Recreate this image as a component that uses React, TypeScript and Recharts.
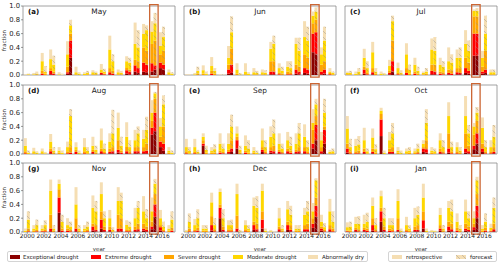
import React from "react";
import { BarChart, Bar, XAxis, YAxis, ReferenceArea } from "recharts";

const years = [
  2000, 2001, 2002, 2003, 2004, 2005, 2006, 2007, 2008, 2009, 2010, 2011, 2012,
  2013, 2014, 2015, 2016, 2017,
];
const yTicks = [0, 0.2, 0.4, 0.6, 0.8, 1.0];
const highlightYear = 2015;

// cumulative fractions per year: [D0 abnormally dry, D1 moderate, D2 severe, D3 extreme, D4 exceptional]
const mayRetro = [
  [0.01, 0, 0, 0, 0], [0.03, 0.01, 0, 0, 0], [0.32, 0.2, 0.06, 0.02, 0], [0.37, 0.23, 0.1, 0.06, 0.01],
  [0.04, 0.01, 0, 0, 0], [0.49, 0.3, 0.12, 0.04, 0.02], [0.12, 0.04, 0.01, 0, 0], [0.04, 0.02, 0, 0, 0],
  [0.07, 0.04, 0.01, 0, 0], [0.16, 0.08, 0.04, 0.03, 0.01], [0.57, 0.37, 0.1, 0.04, 0.01], [0.08, 0.04, 0.01, 0, 0],
  [0.27, 0.2, 0.1, 0.07, 0.02], [0.76, 0.45, 0.22, 0.14, 0.05], [0.74, 0.6, 0.4, 0.18, 0.05], [0.78, 0.63, 0.45, 0.17, 0.05],
  [0.62, 0.42, 0.3, 0.18, 0.1], [0.08, 0.04, 0.01, 0, 0],
];
const mayForecast = [
  [0.02, 0.01, 0, 0, 0], [0.05, 0.02, 0.01, 0, 0], [0.13, 0.05, 0.02, 0, 0], [0.28, 0.15, 0.05, 0.02, 0],
  [0.02, 0, 0, 0, 0], [0.8, 0.72, 0.6, 0.5, 0.25], [0.04, 0.02, 0, 0, 0], [0.06, 0.03, 0.01, 0, 0],
  [0.05, 0.03, 0.01, 0, 0], [0.09, 0.05, 0.02, 0.01, 0], [0.3, 0.2, 0.06, 0.02, 0], [0.06, 0.03, 0.01, 0, 0],
  [0.25, 0.18, 0.08, 0.05, 0.01], [0.65, 0.4, 0.2, 0.1, 0.03], [0.72, 0.65, 0.35, 0.15, 0.04], [0.9, 0.75, 0.5, 0.14, 0.08],
  [0.7, 0.55, 0.35, 0.15, 0.08], [0.04, 0.02, 0, 0, 0],
];
const junRetro = [
  [0.01, 0, 0, 0, 0], [0.03, 0.01, 0, 0, 0], [0.14, 0.07, 0.02, 0, 0], [0.26, 0.13, 0.06, 0.02, 0],
  [0.01, 0, 0, 0, 0], [0.42, 0.25, 0.15, 0.08, 0.02], [0.17, 0.08, 0.02, 0, 0], [0.17, 0.05, 0.01, 0, 0],
  [0.1, 0.04, 0.01, 0, 0], [0.08, 0.04, 0.01, 0, 0], [0.48, 0.38, 0.2, 0.05, 0.01], [0.17, 0.1, 0.03, 0.01, 0],
  [0.2, 0.12, 0.05, 0.01, 0], [0.54, 0.45, 0.15, 0.08, 0.02], [0.78, 0.55, 0.3, 0.1, 0.03], [0.92, 0.86, 0.75, 0.6, 0.33],
  [0.4, 0.3, 0.15, 0.05, 0.01], [0.1, 0.05, 0.03, 0.01, 0],
];
const junForecast = [
  [0.01, 0, 0, 0, 0], [0.12, 0.06, 0.02, 0, 0], [0.05, 0.02, 0, 0, 0], [0.1, 0.06, 0.02, 0, 0],
  [0.01, 0, 0, 0, 0], [0.85, 0.62, 0.38, 0.15, 0.03], [0.03, 0.01, 0, 0, 0], [0.04, 0.02, 0, 0, 0],
  [0.06, 0.03, 0.01, 0, 0], [0.07, 0.03, 0.01, 0, 0], [0.57, 0.45, 0.2, 0.05, 0.01], [0.12, 0.06, 0.02, 0, 0],
  [0.2, 0.1, 0.04, 0.01, 0], [0.54, 0.35, 0.12, 0.05, 0.01], [0.7, 0.5, 0.25, 0.08, 0.02], [0.98, 0.92, 0.8, 0.62, 0.3],
  [0.7, 0.5, 0.2, 0.08, 0.02], [0.05, 0.03, 0.01, 0, 0],
];
const julRetro = [
  [0.05, 0.03, 0.01, 0, 0], [0.05, 0.02, 0, 0, 0], [0.38, 0.25, 0.12, 0.08, 0.02], [0.48, 0.33, 0.1, 0.04, 0.01],
  [0.05, 0.02, 0, 0, 0], [0.22, 0.13, 0.06, 0.03, 0.01], [0.18, 0.1, 0.03, 0.01, 0], [0.46, 0.3, 0.1, 0.03, 0],
  [0.25, 0.15, 0.05, 0.02, 0], [0.05, 0.03, 0.01, 0, 0], [0.53, 0.37, 0.15, 0.06, 0.01], [0.25, 0.15, 0.05, 0.02, 0],
  [0.4, 0.2, 0.08, 0.03, 0.01], [0.37, 0.25, 0.1, 0.04, 0.01], [0.65, 0.45, 0.25, 0.1, 0.03], [0.95, 0.93, 0.85, 0.6, 0.28],
  [0.35, 0.25, 0.12, 0.05, 0.02], [0.08, 0.04, 0.01, 0, 0],
];
const julForecast = [
  [0.06, 0.03, 0.01, 0, 0], [0.1, 0.05, 0.01, 0, 0], [0.2, 0.1, 0.04, 0.01, 0], [0.1, 0.05, 0.02, 0, 0],
  [0.03, 0.01, 0, 0, 0], [0.86, 0.78, 0.5, 0.2, 0.05], [0.07, 0.03, 0.01, 0, 0], [0.15, 0.08, 0.02, 0, 0],
  [0.12, 0.06, 0.02, 0, 0], [0.1, 0.05, 0.02, 0, 0], [0.55, 0.35, 0.15, 0.05, 0.01], [0.2, 0.12, 0.04, 0.01, 0],
  [0.3, 0.18, 0.07, 0.02, 0], [0.4, 0.25, 0.1, 0.03, 0.01], [0.5, 0.35, 0.18, 0.06, 0.02], [0.97, 0.93, 0.85, 0.6, 0.28],
  [0.86, 0.6, 0.35, 0.08, 0.03], [0.08, 0.04, 0.01, 0, 0],
];
const augRetro = [
  [0.23, 0.12, 0.04, 0.01, 0], [0.09, 0.04, 0.01, 0, 0], [0.08, 0.04, 0.01, 0, 0], [0.29, 0.18, 0.08, 0.04, 0.01],
  [0.1, 0.05, 0.02, 0, 0], [0.18, 0.1, 0.04, 0.01, 0], [0.17, 0.1, 0.06, 0.03, 0], [0.23, 0.1, 0.04, 0.01, 0],
  [0.25, 0.12, 0.06, 0.03, 0.01], [0.37, 0.2, 0.08, 0.04, 0.01], [0.3, 0.18, 0.08, 0.03, 0.01], [0.6, 0.38, 0.2, 0.06, 0.02],
  [0.46, 0.25, 0.1, 0.04, 0.01], [0.35, 0.2, 0.1, 0.04, 0.01], [0.35, 0.22, 0.1, 0.04, 0.01], [0.78, 0.6, 0.48, 0.38, 0.28],
  [0.52, 0.4, 0.25, 0.18, 0.1], [0.1, 0.05, 0.02, 0, 0],
];
const augForecast = [
  [0.05, 0.02, 0, 0, 0], [0.04, 0.02, 0, 0, 0], [0.03, 0.01, 0, 0, 0], [0.1, 0.05, 0.02, 0, 0],
  [0.05, 0.02, 0, 0, 0], [0.65, 0.55, 0.1, 0.02, 0], [0.05, 0.02, 0, 0, 0], [0.1, 0.05, 0.01, 0, 0],
  [0.12, 0.06, 0.02, 0, 0], [0.15, 0.08, 0.03, 0.01, 0], [0.64, 0.3, 0.1, 0.04, 0.01], [0.25, 0.12, 0.05, 0.02, 0],
  [0.2, 0.1, 0.04, 0.01, 0], [0.4, 0.3, 0.1, 0.04, 0.01], [0.54, 0.35, 0.15, 0.05, 0.01], [0.9, 0.88, 0.8, 0.6, 0.33],
  [0.85, 0.72, 0.4, 0.15, 0.05], [0.05, 0.02, 0, 0, 0],
];
const sepRetro = [
  [0.22, 0.1, 0.04, 0.01, 0], [0.22, 0.1, 0.03, 0.01, 0], [0.3, 0.25, 0.2, 0.15, 0.12], [0.1, 0.05, 0.02, 0, 0],
  [0.3, 0.15, 0.05, 0.02, 0], [0.3, 0.15, 0.06, 0.03, 0.01], [0.4, 0.3, 0.25, 0.2, 0.08], [0.27, 0.12, 0.05, 0.02, 0],
  [0.1, 0.05, 0.02, 0, 0], [0.37, 0.2, 0.1, 0.06, 0.03], [0.4, 0.25, 0.1, 0.05, 0.02], [0.3, 0.15, 0.06, 0.03, 0.01],
  [0.32, 0.2, 0.08, 0.04, 0.01], [0.3, 0.15, 0.06, 0.03, 0.01], [0.43, 0.25, 0.1, 0.04, 0.01], [0.65, 0.45, 0.35, 0.15, 0.08],
  [0.32, 0.2, 0.1, 0.04, 0.01], [0.06, 0.03, 0.01, 0, 0],
];
const sepForecast = [
  [0.1, 0.05, 0.01, 0, 0], [0.06, 0.03, 0.01, 0, 0], [0.12, 0.06, 0.02, 0, 0], [0.14, 0.07, 0.02, 0, 0],
  [0.15, 0.08, 0.03, 0.01, 0], [0.57, 0.4, 0.2, 0.08, 0.03], [0.12, 0.06, 0.02, 0, 0], [0.2, 0.08, 0.02, 0, 0],
  [0.05, 0.02, 0, 0, 0], [0.2, 0.1, 0.04, 0.01, 0], [0.5, 0.3, 0.12, 0.04, 0.01], [0.15, 0.08, 0.03, 0.01, 0],
  [0.25, 0.12, 0.05, 0.02, 0], [0.45, 0.3, 0.1, 0.04, 0.01], [0.2, 0.1, 0.04, 0.01, 0], [0.8, 0.72, 0.55, 0.42, 0.2],
  [0.8, 0.6, 0.4, 0.35, 0.15], [0.08, 0.04, 0.01, 0, 0],
];
const octRetro = [
  [0.55, 0.37, 0.15, 0.08, 0.02], [0.22, 0.12, 0.04, 0.01, 0], [0.38, 0.2, 0.08, 0.03, 0.01], [0.37, 0.24, 0.08, 0.03, 0.01],
  [0.67, 0.63, 0.58, 0.5, 0.26], [0.32, 0.2, 0.08, 0.03, 0.01], [0.1, 0.05, 0.02, 0, 0], [0.08, 0.04, 0.01, 0, 0],
  [0.08, 0.04, 0.02, 0, 0], [0.2, 0.15, 0.1, 0.08, 0.03], [0.1, 0.05, 0.02, 0, 0], [0.3, 0.2, 0.08, 0.03, 0.01],
  [0.75, 0.55, 0.3, 0.08, 0.02], [0.17, 0.1, 0.04, 0.01, 0], [0.84, 0.55, 0.3, 0.08, 0.02], [0.45, 0.4, 0.28, 0.12, 0.07],
  [0.53, 0.38, 0.15, 0.08, 0.03], [0.2, 0.1, 0.04, 0.01, 0],
];
const octForecast = [
  [0.22, 0.1, 0.04, 0.01, 0], [0.26, 0.14, 0.05, 0.01, 0], [0.08, 0.04, 0.01, 0, 0], [0.14, 0.07, 0.02, 0, 0],
  [0.05, 0.02, 0, 0, 0], [0.45, 0.3, 0.1, 0.03, 0.01], [0.05, 0.02, 0, 0, 0], [0.1, 0.05, 0.02, 0, 0],
  [0.15, 0.08, 0.03, 0.01, 0], [0.65, 0.45, 0.2, 0.07, 0.02], [0.08, 0.04, 0.01, 0, 0], [0.2, 0.1, 0.04, 0.01, 0],
  [0.18, 0.1, 0.04, 0.01, 0], [0.1, 0.05, 0.02, 0, 0], [0.42, 0.3, 0.12, 0.04, 0.01], [0.68, 0.6, 0.48, 0.3, 0.15],
  [0.2, 0.1, 0.04, 0.01, 0], [0.42, 0.25, 0.1, 0.03, 0.01],
];
const novRetro = [
  [0.05, 0.02, 0, 0, 0], [0.1, 0.05, 0.02, 0, 0], [0.1, 0.05, 0.02, 0.01, 0], [0.76, 0.6, 0.25, 0.05, 0.01],
  [0.76, 0.7, 0.62, 0.5, 0.28], [0.2, 0.1, 0.05, 0.02, 0], [0.65, 0.4, 0.2, 0.05, 0.01], [0.1, 0.05, 0.02, 0, 0],
  [0.53, 0.35, 0.12, 0.08, 0.02], [0.72, 0.55, 0.3, 0.18, 0.05], [0.32, 0.2, 0.08, 0.03, 0.01], [0.65, 0.45, 0.25, 0.05, 0.01],
  [0.17, 0.1, 0.04, 0.01, 0], [0.35, 0.2, 0.08, 0.03, 0.01], [0.52, 0.3, 0.12, 0.05, 0.02], [0.5, 0.3, 0.15, 0.08, 0.04],
  [0.32, 0.2, 0.1, 0.07, 0.02], [0.1, 0.05, 0.02, 0, 0],
];
const novForecast = [
  [0.3, 0.18, 0.05, 0.01, 0], [0.18, 0.1, 0.03, 0.01, 0], [0.17, 0.1, 0.04, 0.01, 0], [0.1, 0.05, 0.02, 0, 0],
  [0.25, 0.15, 0.05, 0.02, 0], [0.15, 0.08, 0.03, 0.01, 0], [0.1, 0.05, 0.02, 0, 0], [0.15, 0.08, 0.03, 0.01, 0],
  [0.45, 0.3, 0.1, 0.03, 0.01], [0.3, 0.2, 0.08, 0.03, 0.01], [0.07, 0.03, 0.01, 0, 0], [0.57, 0.45, 0.2, 0.05, 0.01],
  [0.15, 0.08, 0.03, 0.01, 0], [0.45, 0.35, 0.12, 0.04, 0.01], [0.33, 0.2, 0.08, 0.03, 0.01], [0.77, 0.7, 0.55, 0.4, 0.22],
  [0.15, 0.08, 0.03, 0.01, 0], [0.3, 0.18, 0.06, 0.02, 0],
];
const decRetro = [
  [0.03, 0.01, 0, 0, 0], [0.19, 0.1, 0.03, 0.01, 0], [0.1, 0.05, 0.02, 0, 0], [0.57, 0.43, 0.23, 0.1, 0.02],
  [0.63, 0.58, 0.4, 0.35, 0.2], [0.17, 0.1, 0.04, 0.01, 0], [0.7, 0.55, 0.24, 0.05, 0.01], [0.17, 0.1, 0.04, 0.01, 0],
  [0.5, 0.38, 0.15, 0.1, 0.03], [0.7, 0.6, 0.3, 0.18, 0.05], [0.03, 0.01, 0, 0, 0], [0.35, 0.2, 0.08, 0.04, 0.01],
  [0.45, 0.33, 0.15, 0.1, 0.03], [0.1, 0.05, 0.02, 0, 0], [0.35, 0.25, 0.1, 0.04, 0.01], [0.42, 0.3, 0.2, 0.12, 0.06],
  [0.25, 0.15, 0.08, 0.05, 0.02], [0.48, 0.3, 0.1, 0.04, 0.01],
];
const decForecast = [
  [0.27, 0.15, 0.05, 0.01, 0], [0.33, 0.2, 0.06, 0.02, 0], [0.1, 0.05, 0.02, 0, 0], [0.2, 0.1, 0.04, 0.01, 0],
  [0.33, 0.2, 0.08, 0.03, 0.01], [0.18, 0.1, 0.04, 0.01, 0], [0.03, 0.01, 0, 0, 0], [0.1, 0.05, 0.02, 0, 0],
  [0.52, 0.35, 0.12, 0.04, 0.01], [0.05, 0.02, 0, 0, 0], [0.01, 0, 0, 0, 0], [0.1, 0.05, 0.02, 0, 0],
  [0.38, 0.25, 0.1, 0.03, 0.01], [0.1, 0.05, 0.02, 0, 0], [0.45, 0.3, 0.12, 0.04, 0.01], [0.78, 0.75, 0.5, 0.38, 0.22],
  [0.13, 0.07, 0.03, 0.01, 0], [0.3, 0.15, 0.05, 0.01, 0],
];
const janRetro = [
  [0.14, 0.07, 0.02, 0.01, 0], [0.22, 0.12, 0.06, 0.03, 0.01], [0.25, 0.12, 0.06, 0.03, 0.01], [0.5, 0.38, 0.2, 0.1, 0.02],
  [0.6, 0.52, 0.35, 0.3, 0.15], [0.2, 0.1, 0.05, 0.02, 0], [0.62, 0.45, 0.2, 0.03, 0.01], [0.22, 0.1, 0.04, 0.01, 0],
  [0.35, 0.2, 0.08, 0.03, 0.01], [0.7, 0.5, 0.3, 0.17, 0.05], [0.03, 0.01, 0, 0, 0], [0.35, 0.25, 0.1, 0.05, 0.02],
  [0.45, 0.35, 0.15, 0.08, 0.02], [0.27, 0.15, 0.06, 0.02, 0], [0.47, 0.3, 0.12, 0.05, 0.02], [0.3, 0.2, 0.12, 0.07, 0.03],
  [0.1, 0.05, 0.02, 0, 0], [0.12, 0.06, 0.02, 0.01, 0],
];
const janForecast = [
  [0.15, 0.08, 0.02, 0, 0], [0.23, 0.12, 0.04, 0.01, 0], [0.28, 0.15, 0.05, 0.02, 0], [0.2, 0.1, 0.04, 0.01, 0],
  [0.35, 0.2, 0.08, 0.03, 0.01], [0.2, 0.1, 0.04, 0.01, 0], [0.05, 0.02, 0, 0, 0], [0.1, 0.05, 0.02, 0, 0],
  [0.37, 0.25, 0.1, 0.03, 0.01], [0.05, 0.02, 0, 0, 0], [0.02, 0.01, 0, 0, 0], [0.1, 0.05, 0.02, 0, 0],
  [0.47, 0.3, 0.12, 0.04, 0.01], [0.1, 0.05, 0.02, 0, 0], [0.3, 0.2, 0.08, 0.03, 0.01], [0.8, 0.75, 0.55, 0.38, 0.2],
  [0.27, 0.15, 0.06, 0.02, 0], [0.5, 0.35, 0.12, 0.04, 0.01],
];

const panels = [
  { letter: "(a)", month: "May", retro: mayRetro, forecast: mayForecast },
  { letter: "(b)", month: "Jun", retro: junRetro, forecast: junForecast },
  { letter: "(c)", month: "Jul", retro: julRetro, forecast: julForecast },
  { letter: "(d)", month: "Aug", retro: augRetro, forecast: augForecast },
  { letter: "(e)", month: "Sep", retro: sepRetro, forecast: sepForecast },
  { letter: "(f)", month: "Oct", retro: octRetro, forecast: octForecast },
  { letter: "(g)", month: "Nov", retro: novRetro, forecast: novForecast },
  { letter: "(h)", month: "Dec", retro: decRetro, forecast: decForecast },
  { letter: "(i)", month: "Jan", retro: janRetro, forecast: janForecast },
];

// drawn bottom to top: D4, D3, D2, D1, D0
const levels = [
  { key: "d4", label: "Exceptional drought", color: "#8b0000" },
  { key: "d3", label: "Extreme drought", color: "#ff0000" },
  { key: "d2", label: "Severe drought", color: "#ffa500" },
  { key: "d1", label: "Moderate drought", color: "#ffd700" },
  { key: "d0", label: "Abnormally dry", color: "#f5deb3" },
];

const FONT = "DejaVu Sans, sans-serif";
const colX = [23, 184, 345];
const rowY = [6, 85, 163];
const plotW = 152;
const plotH = 69;
const HATCH = "M-1,-1 L7,7 M-1,5 L1,7 M5,-1 L7,1";

function toRows(retro: number[][], forecast: number[][]) {
  return years.map((year, i) => {
    const row: any = { year };
    const add = (prefix: string, v: number[]) => {
      // v = [D0..D4] cumulative; stack increments D4, D3-D4, ...
      row[prefix + "d4"] = v[4];
      row[prefix + "d3"] = Math.max(0, v[3] - v[4]);
      row[prefix + "d2"] = Math.max(0, v[2] - v[3]);
      row[prefix + "d1"] = Math.max(0, v[1] - v[2]);
      row[prefix + "d0"] = Math.max(0, v[0] - v[1]);
    };
    add("r", retro[i]);
    add("f", forecast[i]);
    return row;
  });
}

function HatchDefs({ prefix }: { prefix: string }) {
  return (
    <defs>
      {levels.map((l) => (
        <pattern
          key={l.key}
          id={`${prefix}-${l.key}`}
          patternUnits="userSpaceOnUse"
          width={6}
          height={6}
        >
          <rect width={6} height={6} fill={l.color} />
          <path d={HATCH} stroke="#8a8a8a" strokeOpacity={0.8} strokeWidth={0.5} />
        </pattern>
      ))}
    </defs>
  );
}

function Panel({ idx }: { idx: number }) {
  const p = panels[idx];
  const col = idx % 3;
  const row = Math.floor(idx / 3);
  const yw = col === 0 ? 23 : 4;
  const xh = row === 2 ? 19 : 4;
  const mt = 4;
  const mr = 4;
  const w = yw + plotW + mr;
  const h = mt + plotH + xh;
  const data = toRows(p.retro, p.forecast);
  const pid = `hatch${idx}`;
  return (
    <div style={{ position: "absolute", left: colX[col] - yw, top: rowY[row] - mt }}>
      <BarChart
        width={w}
        height={h}
        data={data}
        margin={{ top: mt, right: mr, bottom: 0, left: 0 }}
        barCategoryGap="10%"
        barGap={0}
      >
        <HatchDefs prefix={pid} />
        <XAxis
          dataKey="year"
          height={xh}
          interval={1}
          tickSize={2}
          tickMargin={0}
          axisLine={false}
          tickLine={{ stroke: "#555", strokeWidth: 0.6 }}
          tick={row === 2 ? { fontSize: 5.9, fill: "#222", fontFamily: FONT } : false}
          label={
            row === 2
              ? { value: "year", position: "insideBottom", offset: 0, fontSize: 5.5, fill: "#333", fontFamily: FONT }
              : undefined
          }
        />
        <YAxis
          type="number"
          domain={[0, 1]}
          ticks={yTicks}
          interval={0}
          width={yw}
          tickSize={2}
          tickMargin={1}
          axisLine={false}
          tickLine={{ stroke: "#555", strokeWidth: 0.6 }}
          tickFormatter={(v: number) => v.toFixed(1)}
          tick={col === 0 ? { fontSize: 6.8, fill: "#222", fontFamily: FONT } : false}
        />
        {levels.map((l) => (
          <Bar
            key={"r" + l.key}
            dataKey={"r" + l.key}
            stackId="r"
            fill={l.color}
            isAnimationActive={false}
          />
        ))}
        {levels.map((l) => (
          <Bar
            key={"f" + l.key}
            dataKey={"f" + l.key}
            stackId="f"
            fill={`url(#${pid}-${l.key})`}
            isAnimationActive={false}
          />
        ))}
        <ReferenceArea
          x1={years[0]}
          x2={years[years.length - 1]}
          y1={0}
          y2={1}
          fill="none"
          stroke="#8a8a8a"
          strokeWidth={0.8}
          ifOverflow="visible"
        />
        <ReferenceArea
          x1={highlightYear}
          x2={highlightYear}
          y1={-0.03}
          y2={1.02}
          fill="none"
          fillOpacity={0}
          stroke="#cc6633"
          strokeWidth={1.3}
          ifOverflow="visible"
        />
        <text x={yw + 5} y={mt + 8} fontSize={7} fontWeight="bold" fill="#111" fontFamily={FONT}>
          {p.letter}
        </text>
        <text x={yw + plotW / 2} y={mt + 8} fontSize={7.4} fill="#222" textAnchor="middle" fontFamily={FONT}>
          {p.month}
        </text>
        {col === 0 && (
          <text
            x={6}
            y={mt + plotH / 2}
            fontSize={5.5}
            fill="#333"
            textAnchor="middle"
            fontFamily={FONT}
            transform={`rotate(-90 6 ${mt + plotH / 2})`}
          >
            fraction
          </text>
        )}
      </BarChart>
    </div>
  );
}

const legendItems = [
  { swatch: 10, text: 23, level: 0 },
  { swatch: 91, text: 105, level: 1 },
  { swatch: 164, text: 178, level: 2 },
  { swatch: 233, text: 247, level: 3 },
  { swatch: 308, text: 322, level: 4 },
];

function Legend() {
  const textStyle: React.CSSProperties = {
    position: "absolute",
    top: 254,
    fontSize: 5.5,
    lineHeight: "6px",
    color: "#222",
    fontFamily: FONT,
    whiteSpace: "nowrap",
  };
  const sw = (left: number, color: string): React.CSSProperties => ({
    position: "absolute",
    left,
    top: 255,
    width: 10,
    height: 4,
    background: color,
  });
  const box = (left: number, width: number): React.CSSProperties => ({
    position: "absolute",
    left,
    top: 251,
    width,
    height: 11,
    border: "0.6px solid #d4d4d4",
    borderRadius: 2,
    boxSizing: "border-box",
  });
  return (
    <>
      <div style={box(7, 361)} />
      <div style={box(388, 109)} />
      {legendItems.map((it) => (
        <React.Fragment key={it.level}>
          <div style={sw(it.swatch, levels[it.level].color)} />
          <div style={{ ...textStyle, left: it.text }}>{levels[it.level].label}</div>
        </React.Fragment>
      ))}
      <div style={sw(392, levels[4].color)} />
      <div style={{ ...textStyle, left: 406 }}>retrospective</div>
      <svg style={{ position: "absolute", left: 456, top: 255 }} width={10} height={4}>
        <defs>
          <pattern id="legend-hatch" patternUnits="userSpaceOnUse" width={6} height={6}>
            <rect width={6} height={6} fill={levels[4].color} />
            <path d={HATCH} stroke="#8a8a8a" strokeOpacity={0.8} strokeWidth={0.5} />
          </pattern>
        </defs>
        <rect width={10} height={4} fill="url(#legend-hatch)" />
      </svg>
      <div style={{ ...textStyle, left: 470 }}>forecast</div>
    </>
  );
}

export default function App() {
  return (
    <div
      style={{
        position: "absolute",
        left: 0,
        top: 0,
        width: 500,
        height: 267,
        background: "#fff",
        overflow: "hidden",
      }}
    >
      {panels.map((_, i) => (
        <Panel key={i} idx={i} />
      ))}
      <Legend />
    </div>
  );
}
